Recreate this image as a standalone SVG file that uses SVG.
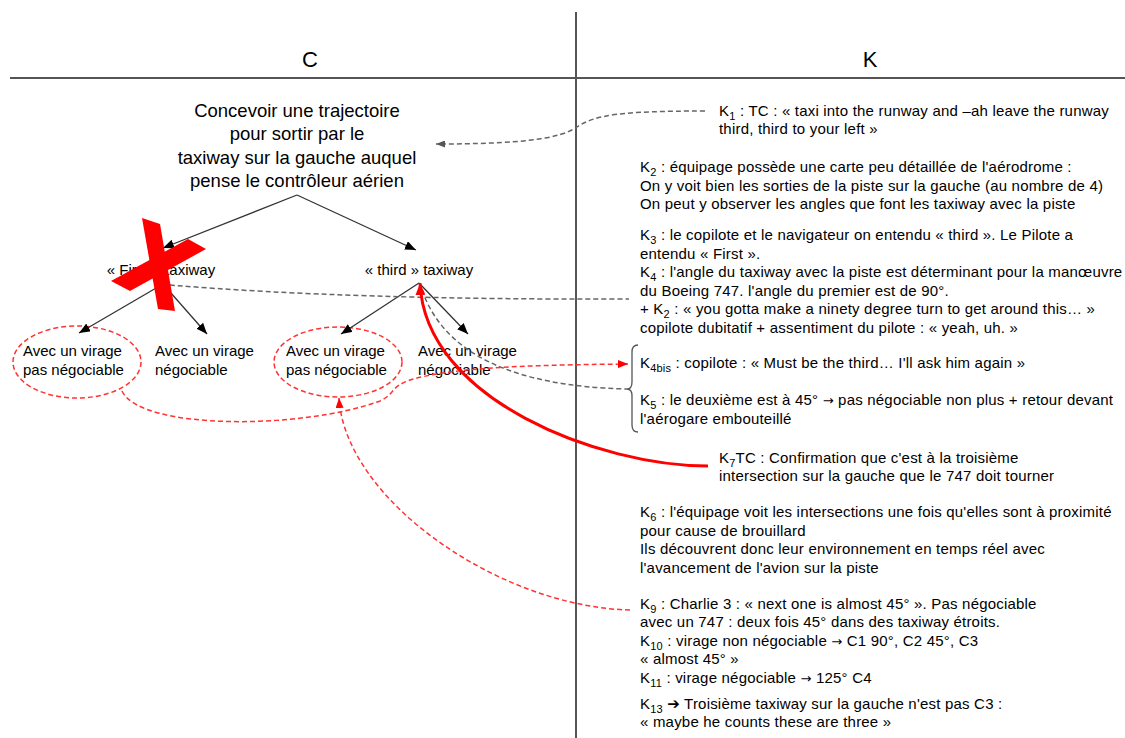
<svg xmlns="http://www.w3.org/2000/svg" width="1125" height="738" viewBox="0 0 1125 738">
<style>
text{font-family:"Liberation Sans",Arial,"DejaVu Sans",sans-serif;fill:#000}
.h{font-size:22px}
.t{font-size:18.5px}
.m{font-size:15px}
.k{letter-spacing:0.2px}
.sub{font-size:11px}
.arw{font-family:"DejaVu Sans",sans-serif;font-size:13px}
.frame{stroke:#555;stroke-width:2;fill:none}
.tree{stroke:#333;stroke-width:1.3;fill:none}
.gd{stroke:#666;stroke-width:1.5;stroke-dasharray:5 3;fill:none}
.rd{stroke:#f33;stroke-width:1.5;stroke-dasharray:5 3;fill:none}
.rs{stroke:#f00;stroke-width:3;fill:none}
.x{fill:#f00}
</style>
<defs>
<marker id="ab" markerUnits="userSpaceOnUse" markerWidth="11" markerHeight="9" refX="11" refY="4.5" orient="auto"><path d="M0,0 L11,4.5 L0,9 z" fill="#000"/></marker>
<marker id="ag" markerUnits="userSpaceOnUse" markerWidth="9" markerHeight="7" refX="9" refY="3.5" orient="auto"><path d="M0,0 L9,3.5 L0,7 z" fill="#555"/></marker>
<marker id="ar" markerUnits="userSpaceOnUse" markerWidth="10" markerHeight="8" refX="10" refY="4" orient="auto"><path d="M0,0 L10,4 L0,8 z" fill="#f00"/></marker>
<marker id="ars" markerUnits="userSpaceOnUse" markerWidth="12" markerHeight="10" refX="12" refY="5" orient="auto"><path d="M0,0 L12,5 L0,10 z" fill="#f00"/></marker>
</defs>
<rect width="1125" height="738" fill="#fff"/>

<g id="frame">
<line class="frame" x1="10" y1="78" x2="1125" y2="78"/>
<line class="frame" x1="576" y1="12" x2="576" y2="738"/>
<text class="h" x="310" y="67" text-anchor="middle">C</text>
<text class="h" x="870" y="67" text-anchor="middle">K</text>
</g>

<g id="node-goal">
<text class="t" text-anchor="middle"><tspan x="297" y="116.5">Concevoir une trajectoire</tspan><tspan x="297" y="140">pour sortir par le</tspan><tspan x="297" y="163.5">taxiway sur la gauche auquel</tspan><tspan x="297" y="187">pense le contrôleur aérien</tspan></text>
</g>
<g id="node-first">
<text class="m" x="161" y="274.5" text-anchor="middle">« First » taxiway</text>
</g>
<g id="node-third">
<text class="m" x="419" y="274.5" text-anchor="middle">« third » taxiway</text>
</g>
<g id="node-first-nonneg">
<ellipse class="rd" cx="77" cy="362" rx="64" ry="36"/>
<text class="m"><tspan x="23" y="356">Avec un virage</tspan><tspan x="23" y="374.5">pas négociable</tspan></text>
</g>
<g id="node-first-neg">
<text class="m"><tspan x="155" y="356">Avec un virage</tspan><tspan x="155" y="374.5">négociable</tspan></text>
</g>
<g id="node-third-nonneg">
<ellipse class="rd" cx="338" cy="362" rx="64" ry="35"/>
<text class="m"><tspan x="286" y="356">Avec un virage</tspan><tspan x="286" y="374.5">pas négociable</tspan></text>
</g>
<g id="node-third-neg">
<text class="m"><tspan x="418" y="356">Avec un virage</tspan><tspan x="418" y="374.5">négociable</tspan></text>
</g>

<g id="node-k1">
<text class="m k" x="719" y="116">K<tspan class="sub" dy="4">1</tspan><tspan dy="-4"> : TC : « taxi into the runway and –ah leave the runway</tspan></text>
<text class="m k" x="719" y="134">third, third to your left »</text>
</g>
<g id="node-k2">
<text class="m k" x="640" y="172">K<tspan class="sub" dy="4">2</tspan><tspan dy="-4"> : équipage possède une carte peu détaillée de l'aérodrome :</tspan></text>
<text class="m k" x="640" y="190.5">On y voit bien les sorties de la piste sur la gauche (au nombre de 4)</text>
<text class="m k" x="640" y="209">On peut y observer les angles que font les taxiway avec la piste</text>
</g>
<g id="node-k3-k4">
<text class="m k" x="640" y="240">K<tspan class="sub" dy="4">3</tspan><tspan dy="-4"> : le copilote et le navigateur on entendu « third ». Le Pilote a</tspan></text>
<text class="m k" x="640" y="258.5">entendu « First ».</text>
<text class="m k" x="640" y="277">K<tspan class="sub" dy="4">4</tspan><tspan dy="-4"> : l'angle du taxiway avec la piste est déterminant pour la manœuvre</tspan></text>
<text class="m k" x="640" y="295.5">du Boeing 747. l'angle du premier est de 90°.</text>
<text class="m k" x="640" y="314">+ K<tspan class="sub" dy="4">2</tspan><tspan dy="-4"> : « you gotta make a ninety degree turn to get around this… »</tspan></text>
<text class="m k" x="640" y="332.5">copilote dubitatif + assentiment du pilote : « yeah, uh. »</text>
</g>
<g id="node-k4bis-k5">
<path d="M638,345 Q632,345 632,352 L632,382 Q632,389 627,389 Q632,389 632,396 L632,425 Q632,432 638,432" fill="none" stroke="#555" stroke-width="1.3"/>
<text class="m k" x="640" y="368">K<tspan class="sub" dy="4">4bis</tspan><tspan dy="-4"> : copilote : « Must be the third… I'll ask him again »</tspan></text>
<text class="m k" x="640" y="405">K<tspan class="sub" dy="4">5</tspan><tspan dy="-4"> : le deuxième est à 45° </tspan><tspan class="arw">→</tspan> pas négociable non plus + retour devant</text>
<text class="m k" x="640" y="423.5">l'aérogare embouteillé</text>
</g>
<g id="node-k7">
<text class="m k" x="719" y="463">K<tspan class="sub" dy="4">7</tspan><tspan dy="-4">TC : Confirmation que c'est à la troisième</tspan></text>
<text class="m k" x="719" y="481">intersection sur la gauche que le 747 doit tourner</text>
</g>
<g id="node-k6">
<text class="m k" x="640" y="517">K<tspan class="sub" dy="4">6</tspan><tspan dy="-4"> : l'équipage voit les intersections une fois qu'elles sont à proximité</tspan></text>
<text class="m k" x="640" y="535.5">pour cause de brouillard</text>
<text class="m k" x="640" y="554">Ils découvrent donc leur environnement en temps réel avec</text>
<text class="m k" x="640" y="572.5">l'avancement de l'avion sur la piste</text>
</g>
<g id="node-k9-k11">
<text class="m k" x="640" y="608.5">K<tspan class="sub" dy="4">9</tspan><tspan dy="-4"> : Charlie 3 : « next one is almost 45° ». Pas négociable</tspan></text>
<text class="m k" x="640" y="627">avec un 747 : deux fois 45° dans des taxiway étroits.</text>
<text class="m k" x="640" y="645.5">K<tspan class="sub" dy="4">10</tspan><tspan dy="-4"> : virage non négociable </tspan><tspan class="arw">→</tspan> C1 90°, C2 45°, C3</text>
<text class="m k" x="640" y="664">« almost 45° »</text>
<text class="m k" x="640" y="682.5">K<tspan class="sub" dy="4">11</tspan><tspan dy="-4"> : virage négociable </tspan><tspan class="arw">→</tspan> 125° C4</text>
</g>
<g id="node-k13">
<text class="m k" x="640" y="708.5">K<tspan class="sub" dy="4">13</tspan><tspan dy="-4"> ➔ Troisième taxiway sur la gauche n'est pas C3 :</tspan></text>
<text class="m k" x="640" y="727">« maybe he counts these are three »</text>
</g>

<g id="connectors">
<line class="tree" x1="297" y1="195" x2="163" y2="248" marker-end="url(#ab)"/>
<line class="tree" x1="297" y1="195" x2="416" y2="250" marker-end="url(#ab)"/>
<line class="tree" x1="163" y1="284" x2="79" y2="333" marker-end="url(#ab)"/>
<line class="tree" x1="163" y1="284" x2="207" y2="334" marker-end="url(#ab)"/>
<line class="tree" x1="419" y1="283" x2="341" y2="334" marker-end="url(#ab)"/>
<line class="tree" x1="419" y1="283" x2="468" y2="334" marker-end="url(#ab)"/>
<path class="gd" d="M705,111 C620,111 595,115 577,127 C560,139 520,144 436,144" marker-end="url(#ag)"/>
<path class="gd" d="M170,285 Q350,300 629,299"/>
<path class="gd" d="M422,290 Q455,385 627,389"/>
<path class="rd" d="M122,391 C140,430 300,430 380,401 C395,394 390,387 410,380 C450,368 520,365 628,364" marker-end="url(#ar)"/>
<path class="rd" d="M630,610 C500,607 345,500 339,398" marker-end="url(#ar)"/>
<path class="rs" d="M708,466 C600,466 425,400 420,283" marker-end="url(#ars)"/>
</g>

<g id="cross">
<polygon class="x" points="142,218 160,224 175,311 158,309"/>
<polygon class="x" points="188,239 206,249 130,291 111,281"/>
</g>
</svg>
